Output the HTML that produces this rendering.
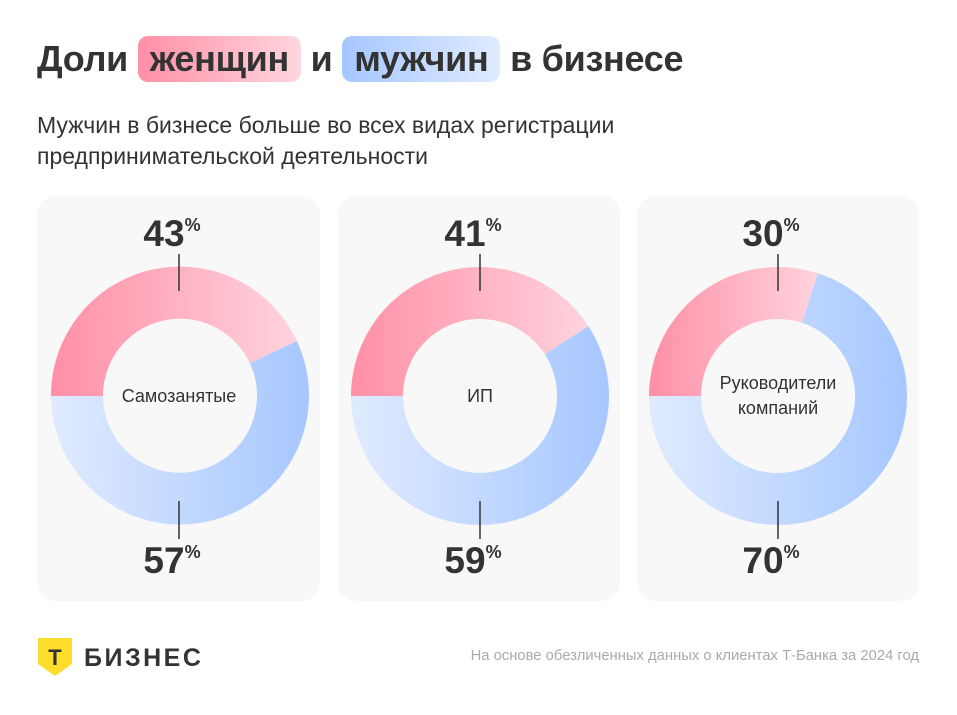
<!DOCTYPE html><html><head><meta charset="utf-8"><style>
body{margin:0;width:957px;height:715px;background:#fff;font-family:"Liberation Sans",sans-serif;position:relative;overflow:hidden;color:#333}
.t{position:absolute;top:36px;left:37px;font-size:36px;font-weight:bold;color:#333;white-space:nowrap;letter-spacing:-0.3px;line-height:46px}
.pill{display:inline-block;padding:0 12px;border-radius:10px}
.sub{position:absolute;left:37px;top:110px;font-size:23px;line-height:31px;color:#333}
.foot{position:absolute;right:38px;top:648px;font-size:14.8px;color:#aaa}
</style></head><body>
<div class="t">Доли <span class="pill" style="background:linear-gradient(90deg,#ff8fa6,#ffd6de)">женщин</span> и <span class="pill" style="background:linear-gradient(90deg,#a6c7ff,#e0ebff)">мужчин</span> в бизнесе</div>
<div class="sub">Мужчин в бизнесе больше во всех видах регистрации<br>предпринимательской деятельности</div>
<svg width="957" height="715" style="position:absolute;left:0;top:0">
<defs>
<linearGradient id="p" x1="0" x2="1" y1="0" y2="0"><stop offset="0" stop-color="#ff8fa6"/><stop offset="1" stop-color="#ffd3dd"/></linearGradient>
<linearGradient id="b" x1="0" x2="1" y1="0" y2="0"><stop offset="0" stop-color="#e0ebff"/><stop offset="1" stop-color="#a6c7ff"/></linearGradient>
</defs>
<rect x="37" y="196" width="283" height="405" rx="18" fill="#f8f8f8"/>
<rect x="338" y="196" width="282" height="405" rx="18" fill="#f8f8f8"/>
<rect x="637" y="196" width="282" height="405" rx="18" fill="#f8f8f8"/>
<g font-family="Liberation Sans" fill="#333">
<path d="M51,396 A129,129 0 0 1 296.9,341 L249.8,363.2 A77,77 0 0 0 103,396 Z" fill="url(#p)"/>
<path d="M296.9,341 A129,129 0 1 1 51,396 L103,396 A77,77 0 1 0 249.8,363.2 Z" fill="url(#b)"/>
<path d="M351,396 A129,129 0 0 1 588.4,326.1 L544.8,354.3 A77,77 0 0 0 403,396 Z" fill="url(#p)"/>
<path d="M588.4,326.1 A129,129 0 1 1 351,396 L403,396 A77,77 0 1 0 544.8,354.3 Z" fill="url(#b)"/>
<path d="M649,396 A129,129 0 0 1 817.9,273.3 L801.8,322.8 A77,77 0 0 0 701,396 Z" fill="url(#p)"/>
<path d="M817.9,273.3 A129,129 0 1 1 649,396 L701,396 A77,77 0 1 0 801.8,322.8 Z" fill="url(#b)"/>
<g stroke="#333" stroke-width="1.5">
<line x1="179" y1="254" x2="179" y2="291"/><line x1="179" y1="501" x2="179" y2="539"/>
<line x1="480" y1="254" x2="480" y2="291"/><line x1="480" y1="501" x2="480" y2="539"/>
<line x1="778" y1="254" x2="778" y2="291"/><line x1="778" y1="501" x2="778" y2="539"/>
</g>
<g font-size="37" font-weight="bold" text-anchor="middle">
<text x="172" y="246">43<tspan font-size="18" dy="-15">%</tspan></text>
<text x="172" y="573">57<tspan font-size="18" dy="-15">%</tspan></text>
<text x="473" y="246">41<tspan font-size="18" dy="-15">%</tspan></text>
<text x="473" y="573">59<tspan font-size="18" dy="-15">%</tspan></text>
<text x="771" y="246">30<tspan font-size="18" dy="-15">%</tspan></text>
<text x="771" y="573">70<tspan font-size="18" dy="-15">%</tspan></text>
</g>
<g font-size="18" text-anchor="middle">
<text x="179" y="402">Самозанятые</text>
<text x="480" y="402">ИП</text>
<text x="778" y="389">Руководители</text>
<text x="778" y="414">компаний</text>
</g>
</g>
<path d="M38,638 H72 V664 L55,676 L38,664 Z" fill="#ffdd2d"/>
<text x="55" y="665" font-family="Liberation Sans" font-weight="bold" font-size="22" text-anchor="middle" fill="#333">Т</text>
<text x="84" y="666" font-family="Liberation Sans" font-weight="bold" font-size="25" fill="#333" letter-spacing="2.5">БИЗНЕС</text>
</svg>
<div class="foot">На основе обезличенных данных о клиентах Т-Банка за 2024 год</div>
</body></html>
